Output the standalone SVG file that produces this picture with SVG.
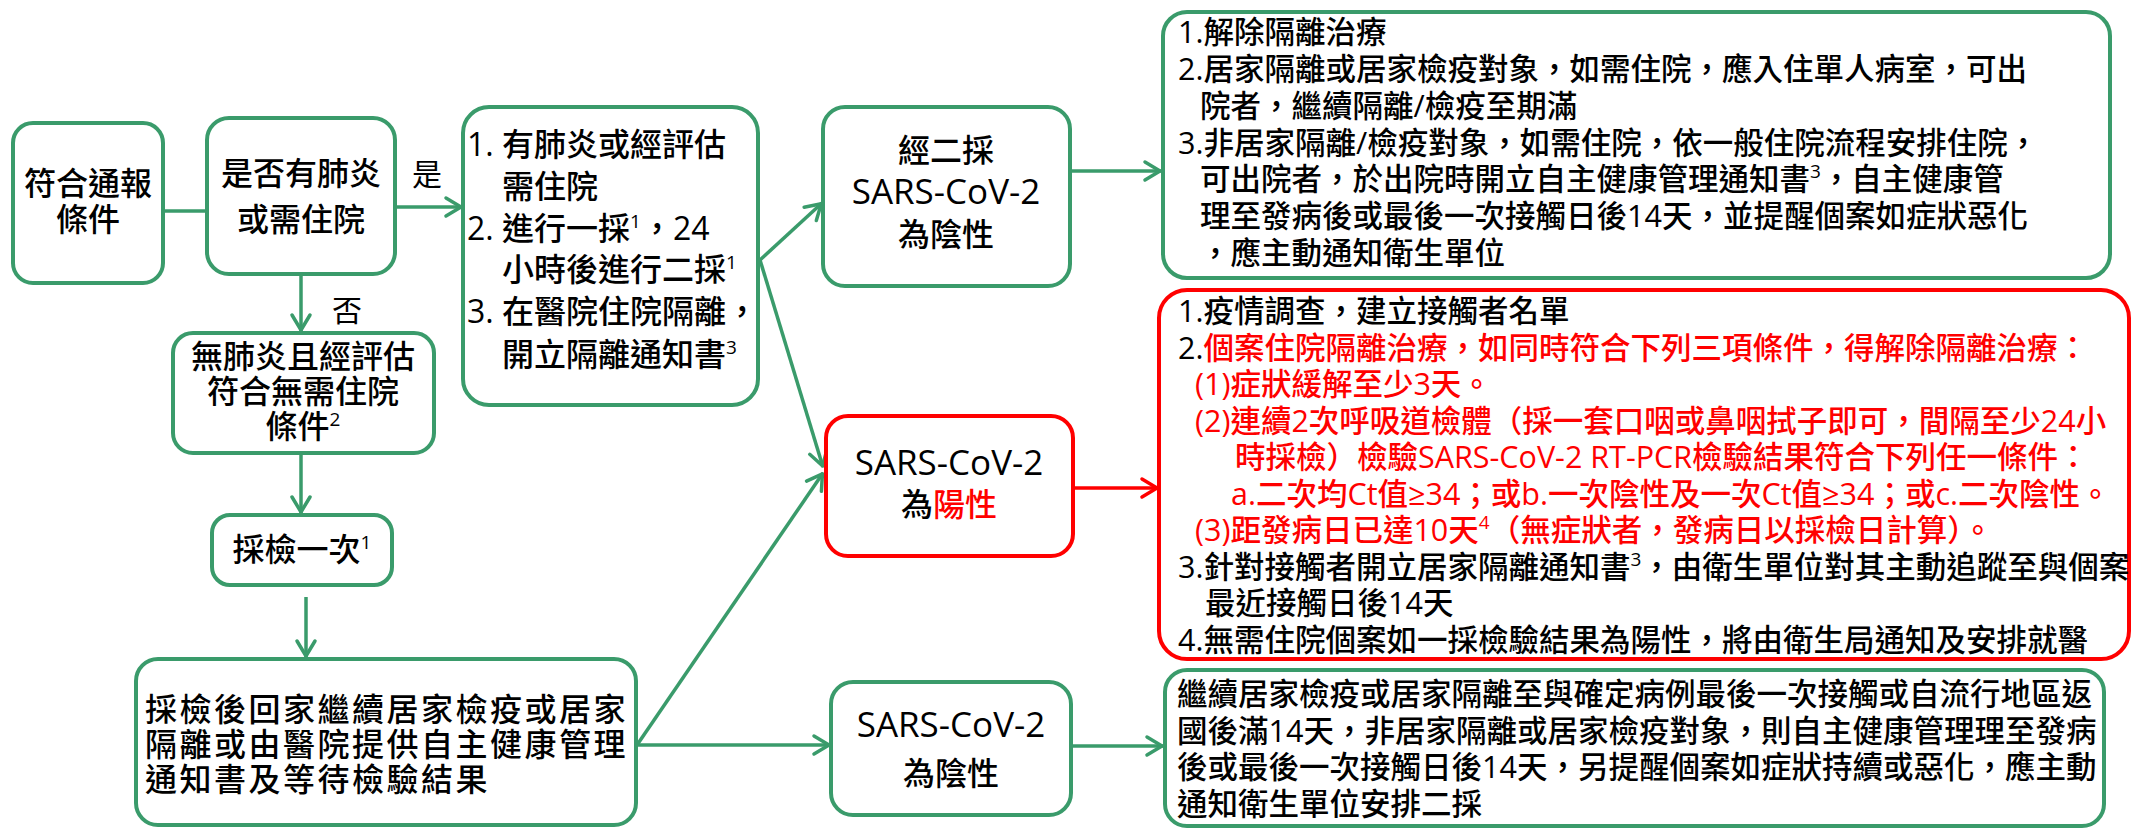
<svg xmlns="http://www.w3.org/2000/svg" width="2132" height="828" viewBox="0 0 2132 828">
<defs>
<style>
.box{fill:#fff;stroke:#3A9B6B;stroke-width:4}
.rbox{fill:#fff;stroke:#FF0000;stroke-width:4}
.ln{stroke:#3A9B6B;stroke-width:3.5;fill:none}
.arr{marker-end:url(#ag)}
.lnr{stroke:#FF0000;stroke-width:3.5;fill:none;marker-end:url(#ar)}
text{font-family:'Open Sans','Noto Sans CJK TC',sans-serif;fill:#000;font-weight:500}
.c32{font-size:32px}
.lbl{font-size:30px;font-weight:400}
.m{text-anchor:middle}
.s{font-size:30.5px}
.sars{font-size:35px;font-weight:400}
.red{fill:#FF0000}
.sup{font-size:19px}
.sp{letter-spacing:2.5px}
</style>
<marker id="ag" markerUnits="userSpaceOnUse" orient="auto" refX="0" refY="0" markerWidth="40" markerHeight="40" viewBox="-20 -20 40 40" overflow="visible">
<path d="M-16,-9 L-1,0 L-16,9" fill="none" stroke="#3A9B6B" stroke-width="3.5" stroke-linecap="round" stroke-linejoin="round"/>
</marker>
<marker id="ar" markerUnits="userSpaceOnUse" orient="auto" refX="0" refY="0" markerWidth="40" markerHeight="40" viewBox="-20 -20 40 40" overflow="visible">
<path d="M-16,-9 L-1,0 L-16,9" fill="none" stroke="#FF0000" stroke-width="3.5" stroke-linecap="round" stroke-linejoin="round"/>
</marker>
</defs>
<rect width="2132" height="828" fill="#fff"/>

<g id="connectors">
<line class="ln" x1="163" y1="211" x2="207" y2="211"/>
<line class="ln arr" x1="395" y1="207" x2="462" y2="207"/>
<line class="ln arr" x1="301" y1="274" x2="301" y2="331"/>
<line class="ln arr" x1="301" y1="453" x2="301" y2="513"/>
<line class="ln arr" x1="306" y1="597" x2="306" y2="657"/>
<line class="ln arr" x1="760" y1="260" x2="822" y2="203"/>
<line class="ln arr" x1="760" y1="260" x2="823" y2="467"/>
<line class="ln arr" x1="637" y1="745" x2="823" y2="473"/>
<line class="ln arr" x1="637" y1="745" x2="830" y2="745"/>
<line class="ln arr" x1="1070" y1="171" x2="1161" y2="171"/>
<line class="lnr" x1="1073" y1="488" x2="1158" y2="488"/>
<line class="ln arr" x1="1071" y1="746" x2="1163" y2="746"/>
<text class="lbl" x="412" y="185">是</text>
<text class="lbl" x="332" y="321">否</text>
</g>

<g id="n-report">
<rect class="box" x="13" y="123" width="150" height="160" rx="20"/>
<text class="c32 m" x="88" y="195">符合通報</text>
<text class="c32 m" x="88" y="231">條件</text>
</g>

<g id="n-pneumonia">
<rect class="box" x="207" y="118" width="188" height="156" rx="22"/>
<text class="c32 m" x="301" y="185">是否有肺炎</text>
<text class="c32 m" x="301" y="231">或需住院</text>
</g>

<g id="n-hospital">
<rect class="box" x="463" y="107" width="295" height="298" rx="26"/>
<text class="c32" x="467" y="156">1.</text>
<text class="c32" x="502" y="156">有肺炎或經評估</text>
<text class="c32" x="502" y="198">需住院</text>
<text class="c32" x="467" y="240">2.</text>
<text class="c32" x="502" y="240">進行一採<tspan class="sup" dy="-12">1</tspan><tspan dy="12">，24</tspan></text>
<text class="c32" x="502" y="281">小時後進行二採<tspan class="sup" dy="-12">1</tspan></text>
<text class="c32" x="467" y="323">3.</text>
<text class="c32" x="502" y="323">在醫院住院隔離，</text>
<text class="c32" x="502" y="366">開立隔離通知書<tspan class="sup" dy="-12">3</tspan></text>
</g>

<g id="n-neg2">
<rect class="box" x="823" y="107" width="247" height="179" rx="22"/>
<text class="c32 m" x="946" y="162">經二採</text>
<text class="sars m" x="946" y="204">SARS-CoV-2</text>
<text class="c32 m" x="946" y="246">為陰性</text>
</g>

<g id="n-pos">
<rect class="rbox" x="826" y="416" width="247" height="140" rx="22"/>
<text class="sars m" x="949" y="475">SARS-CoV-2</text>
<text class="c32 m" x="949" y="516">為<tspan class="red">陽性</tspan></text>
</g>

<g id="n-neg1">
<rect class="box" x="831" y="682" width="240" height="133" rx="22"/>
<text class="sars m" x="951" y="737">SARS-CoV-2</text>
<text class="c32 m" x="951" y="785">為陰性</text>
</g>

<g id="n-nopneu">
<rect class="box" x="173" y="333" width="261" height="120" rx="20"/>
<text class="c32 m" x="303" y="368">無肺炎且經評估</text>
<text class="c32 m" x="303" y="403">符合無需住院</text>
<text class="c32 m" x="303" y="438">條件<tspan class="sup" dy="-12">2</tspan></text>
</g>

<g id="n-sample">
<rect class="box" x="212" y="515" width="180" height="70" rx="18"/>
<text class="c32 m" x="302" y="561">採檢一次<tspan class="sup" dy="-12">1</tspan></text>
</g>

<g id="n-home">
<rect class="box" x="136" y="659" width="500" height="166" rx="22"/>
<text class="c32 sp" x="145" y="721">採檢後回家繼續居家檢疫或居家</text>
<text class="c32 sp" x="145" y="756">隔離或由醫院提供自主健康管理</text>
<text class="c32 sp" x="145" y="791">通知書及等待檢驗結果</text>
</g>

<g id="n-release">
<rect class="box" x="1163" y="12" width="947" height="266" rx="24"/>
<text class="s" x="1178" y="43">1.解除隔離治療</text>
<text class="s" x="1178" y="80">2.居家隔離或居家檢疫對象，如需住院，應入住單人病室，可出</text>
<text class="s" x="1200" y="117">院者，繼續隔離/檢疫至期滿</text>
<text class="s" x="1178" y="153.5">3.非居家隔離/檢疫對象，如需住院，依一般住院流程安排住院，</text>
<text class="s" x="1200" y="190">可出院者，於出院時開立自主健康管理通知書<tspan class="sup" dy="-12">3</tspan><tspan dy="12">，自主健康管</tspan></text>
<text class="s" x="1200" y="227">理至發病後或最後一次接觸日後14天，並提醒個案如症狀惡化</text>
<text class="s" x="1200" y="264">，應主動通知衛生單位</text>
</g>

<g id="n-posaction">
<rect class="rbox" x="1159" y="290" width="970" height="369" rx="28"/>
<text class="s" x="1178" y="322">1.疫情調查，建立接觸者名單</text>
<text class="s" x="1178" y="358.5">2.<tspan class="red">個案住院隔離治療，如同時符合下列三項條件，得解除隔離治療：</tspan></text>
<text class="s red" x="1195" y="395">(1)症狀緩解至少3天。</text>
<text class="s red" x="1195" y="431.5">(2)連續2次呼吸道檢體（採一套口咽或鼻咽拭子即可，間隔至少24小</text>
<text class="s red" x="1235" y="468">時採檢）檢驗SARS-CoV-2 RT-PCR檢驗結果符合下列任一條件：</text>
<text class="s red" x="1231" y="504.5">a.二次均Ct值≥34；或b.一次陰性及一次Ct值≥34；或c.二次陰性。</text>
<text class="s red" x="1195" y="541">(3)距發病日已達10天<tspan class="sup" dy="-12">4</tspan><tspan dy="12">（無症狀者，發病日以採檢日計算）。</tspan></text>
<text class="s" x="1178" y="577.5">3.針對接觸者開立居家隔離通知書<tspan class="sup" dy="-12">3</tspan><tspan dy="12">，由衛生單位對其主動追蹤至與個案</tspan></text>
<text class="s" x="1205" y="614">最近接觸日後14天</text>
<text class="s" x="1178" y="650.5">4.無需住院個案如一採檢驗結果為陽性，將由衛生局通知及安排就醫</text>
</g>

<g id="n-negaction">
<rect class="box" x="1165" y="670" width="939" height="156" rx="22"/>
<text class="s" x="1177" y="705">繼續居家檢疫或居家隔離至與確定病例最後一次接觸或自流行地區返</text>
<text class="s" x="1177" y="741.5">國後滿14天，非居家隔離或居家檢疫對象，則自主健康管理理至發病</text>
<text class="s" x="1177" y="778">後或最後一次接觸日後14天，另提醒個案如症狀持續或惡化，應主動</text>
<text class="s" x="1177" y="814.5">通知衛生單位安排二採</text>
</g>
</svg>
